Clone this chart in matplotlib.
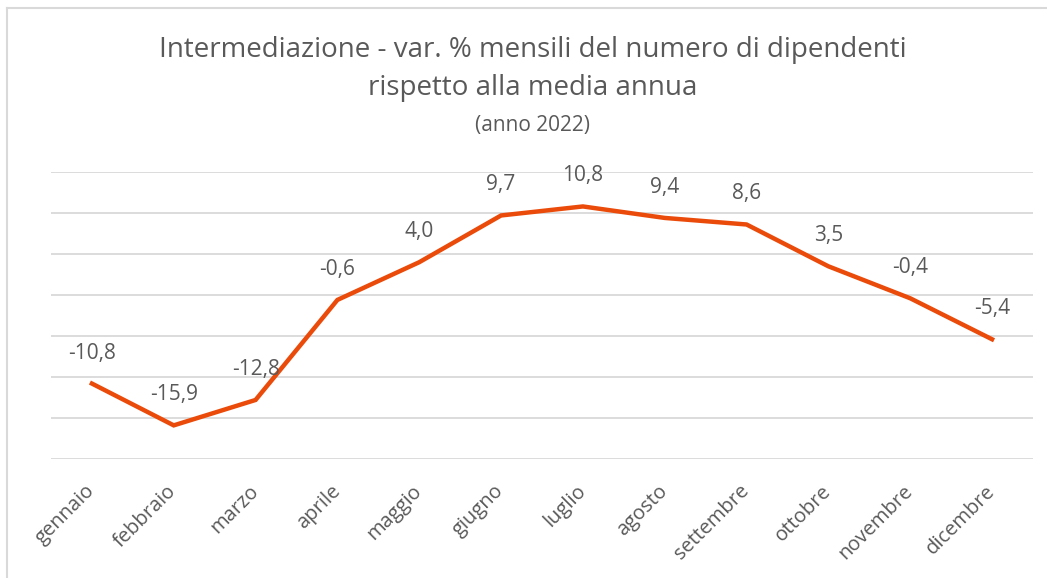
import matplotlib.pyplot as plt
from matplotlib.lines import Line2D

mesi = ['gennaio', 'febbraio', 'marzo', 'aprile', 'maggio', 'giugno',
        'luglio', 'agosto', 'settembre', 'ottobre', 'novembre', 'dicembre']
variazioni = [-10.8, -15.9, -12.8, -0.6, 4.0, 9.7, 10.8, 9.4, 8.6, 3.5, -0.4, -5.4]
griglia = [-20, -15, -10, -5, 0, 5, 10, 15]

plt.rcParams['font.family'] = ['Open Sans', 'DejaVu Sans']
testo = '#595959'

fig = plt.figure(figsize=(10.47, 5.78), dpi=100)
ax = fig.add_axes([0.0487, 0.2059, 0.9379, 0.4965])

x = list(range(len(mesi)))
ax.plot(x, variazioni, color='#EA4B0B', linewidth=3.2, solid_joinstyle='miter',
        zorder=3)
for xi, v in zip(x, variazioni):
    ax.annotate(f'{v:.1f}'.replace('.', ','), (xi, v), xytext=(0, 22),
                textcoords='offset points', ha='center', va='center',
                fontsize=15, color=testo)

ax.set_xlim(-0.5, len(mesi) - 0.5)
ax.set_ylim(griglia[0], griglia[-1])
ax.set_yticks(griglia)
ax.set_yticklabels([])
ax.tick_params(axis='y', length=0)
ax.grid(axis='y', color='#D9D9D9', linewidth=1.3)
ax.set_axisbelow(True)
for s in ax.spines.values():
    s.set_visible(False)

ax.set_xticks(x)
ax.set_xticklabels(mesi, rotation=45, ha='right', va='center',
                   rotation_mode='anchor', fontsize=14.5, color=testo)
ax.tick_params(axis='x', length=0, pad=21)

cx = 533 / 1047
fig.text(cx, 1 - 50 / 578, 'Intermediazione - var. % mensili del numero di dipendenti',
         ha='center', va='center', fontsize=20, color=testo)
fig.text(cx, 1 - 88 / 578, 'rispetto alla media annua',
         ha='center', va='center', fontsize=20, color=testo)
fig.text(cx, 1 - 125 / 578, '(anno 2022)',
         ha='center', va='center', fontsize=15, color=testo)

# bordo del grafico
fig.add_artist(Line2D([7 / 1047, 7 / 1047], [0, 1 - 8 / 578], color='#D9D9D9',
                      linewidth=1.5, transform=fig.transFigure))
fig.add_artist(Line2D([7 / 1047, 1], [1 - 8 / 578, 1 - 8 / 578], color='#D9D9D9',
                      linewidth=1.5, transform=fig.transFigure))

fig.savefig('out.png', dpi=100, facecolor='white')
